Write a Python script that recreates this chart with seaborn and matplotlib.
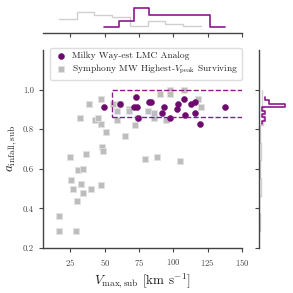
import numpy as np
import pandas as pd
import matplotlib
matplotlib.use("Agg")
import matplotlib.pyplot as plt
import seaborn as sns
from matplotlib.patches import Rectangle

# LMC analogs (purple) and Symphony highest-Vpeak survivors (gray)
lmc_vmax = [49.7, 60.8, 72.7, 71.4, 73.6, 73.9, 81.9, 83.9, 93.3, 91.6,
            97.2, 103.3, 103.0, 107.6, 112.7, 115.8, 108.8, 116.1, 119.7, 137.4]
lmc_ainf = [0.914, 0.926, 0.963, 0.914, 0.914, 0.857, 0.938, 0.938, 0.914, 0.881,
            0.857, 0.926, 0.902, 0.950, 0.926, 0.938, 0.869, 0.881, 0.825, 0.914]

sym_vmax = [31.8, 38.3, 43.2, 44.8, 47.5, 47.5, 51.2, 56.3, 58.9, 58.9,
            64.5, 67.6, 67.6, 71.7, 74.5, 61.0, 81.2, 86.2, 85.8, 90.4,
            97.5, 97.5, 94.8, 108.1, 118.0, 120.0,
            48.3, 48.8, 36.6, 24.5, 79.5, 88.4, 105.0, 30.3, 34.4, 25.5,
            32.8, 27.2, 34.2, 40.3, 47.3, 29.6, 16.5, 16.5, 28.9]
sym_ainf = [0.857, 0.926, 0.845, 0.857, 0.950, 0.825, 0.786, 0.926, 0.891, 0.845,
            0.765, 0.902, 0.891, 0.823, 0.857, 0.926, 0.891, 0.857, 0.881, 0.975,
            1.000, 0.975, 0.845, 1.000, 0.950, 0.914,
            0.709, 0.691, 0.674, 0.657, 0.649, 0.657, 0.640, 0.593, 0.600, 0.543,
            0.523, 0.497, 0.480, 0.497, 0.517, 0.437, 0.362, 0.286, 0.286]

lmc_label = "Milky Way-est LMC Analog"
sym_label = r"Symphony MW Highest-$V_{\rm peak}$ Surviving"

sns.set_style("ticks")
plt.rcParams["font.family"] = "serif"
plt.rcParams["font.serif"] = ["cmr10", "DejaVu Serif"]
plt.rcParams["mathtext.fontset"] = "cm"
plt.rcParams["axes.formatter.use_mathtext"] = True
plt.rcParams["axes.unicode_minus"] = False

purple = "#6e0a6e"
gray_face = "#bdbdbd"
gray_line = "#d0d0d0"
axcol = "#444444"

lmc = pd.DataFrame({"vmax": lmc_vmax, "ainf": lmc_ainf})
sym = pd.DataFrame({"vmax": sym_vmax, "ainf": sym_ainf})

fig = plt.figure(figsize=(2.93, 2.93), dpi=100)
ax = fig.add_axes([0.1468, 0.1536, 0.679, 0.676])
ax_top = fig.add_axes([0.1468, 0.887, 0.679, 0.0956], sharex=ax)
ax_right = fig.add_axes([0.884, 0.1536, 0.106, 0.676], sharey=ax)

# main scatter
sns.scatterplot(data=sym, x="vmax", y="ainf", ax=ax, marker="s", s=14,
                color=gray_face, edgecolor="#e2e2e2", linewidth=0.6,
                label=sym_label, zorder=2)
sns.scatterplot(data=lmc, x="vmax", y="ainf", ax=ax, marker="o", s=19,
                color=purple, edgecolor=purple, linewidth=0.3,
                label=lmc_label, zorder=3)

# selection box
ax.add_patch(Rectangle((55, 0.86), 200, 0.14, fill=False, ls="--",
                       lw=1.0, edgecolor="#8a1a8a", zorder=4))

ax.set_xlim(5, 150)
ax.set_ylim(0.2, 1.2)
ax.set_xticks([25, 50, 75, 100, 125, 150])
ax.set_yticks([0.2, 0.4, 0.6, 0.8, 1.0])
ax.set_yticklabels(["0.2", "0.4", "0.6", "0.8", "1.0"])
ax.set_xlabel(r"$V_{\rm max,sub}$ [km s$^{-1}$]", fontsize=9.5, color="#222222", labelpad=2)
ax.set_ylabel(r"$a_{\rm infall,sub}$", fontsize=9.5, color="#222222", labelpad=3)
ax.tick_params(labelsize=6.3, colors=axcol, length=3, width=0.8)

handles, labels = ax.get_legend_handles_labels()
ax.legend(handles[::-1], labels[::-1], loc="upper left", bbox_to_anchor=(0.01, 1.035),
          fontsize=6.8, frameon=True, edgecolor="#dddddd", framealpha=1,
          handletextpad=0.35, handlelength=1.6, borderpad=0.4, labelspacing=0.3,
          markerscale=1.0)

# marginals
sns.histplot(x=sym_vmax, ax=ax_top, bins=8, stat="density", element="step",
             fill=False, color=gray_line, lw=1.0)
sns.histplot(x=lmc_vmax, ax=ax_top, bins=8, stat="density", element="step",
             fill=False, color="#8a1a8a", lw=1.2)
sns.histplot(y=sym_ainf, ax=ax_right, bins=8, stat="density", element="step",
             fill=False, color=gray_line, lw=1.0)
sns.histplot(y=lmc_ainf, ax=ax_right, bins=8, stat="density", element="step",
             fill=False, color="#8a1a8a", lw=1.2)
ax_top.set_ylim(0, 0.0207)
ax_right.set_xlim(0, 28)

for a in (ax, ax_top, ax_right):
    for s in a.spines.values():
        s.set_color(axcol)
        s.set_linewidth(1.0)

sns.despine(ax=ax)
sns.despine(ax=ax_top, left=True)
sns.despine(ax=ax_right, bottom=True)
ax_top.tick_params(axis="x", labelbottom=False, colors=axcol, length=3, width=0.8)
ax_top.tick_params(axis="y", left=False, labelleft=False)
ax_top.set_xlabel("")
ax_top.set_ylabel("")
ax_right.tick_params(axis="y", labelleft=False, colors=axcol, length=3, width=0.8)
ax_right.tick_params(axis="x", bottom=False, labelbottom=False)
ax_right.set_xlabel("")
ax_right.set_ylabel("")

fig.savefig("out.png", dpi=100)
